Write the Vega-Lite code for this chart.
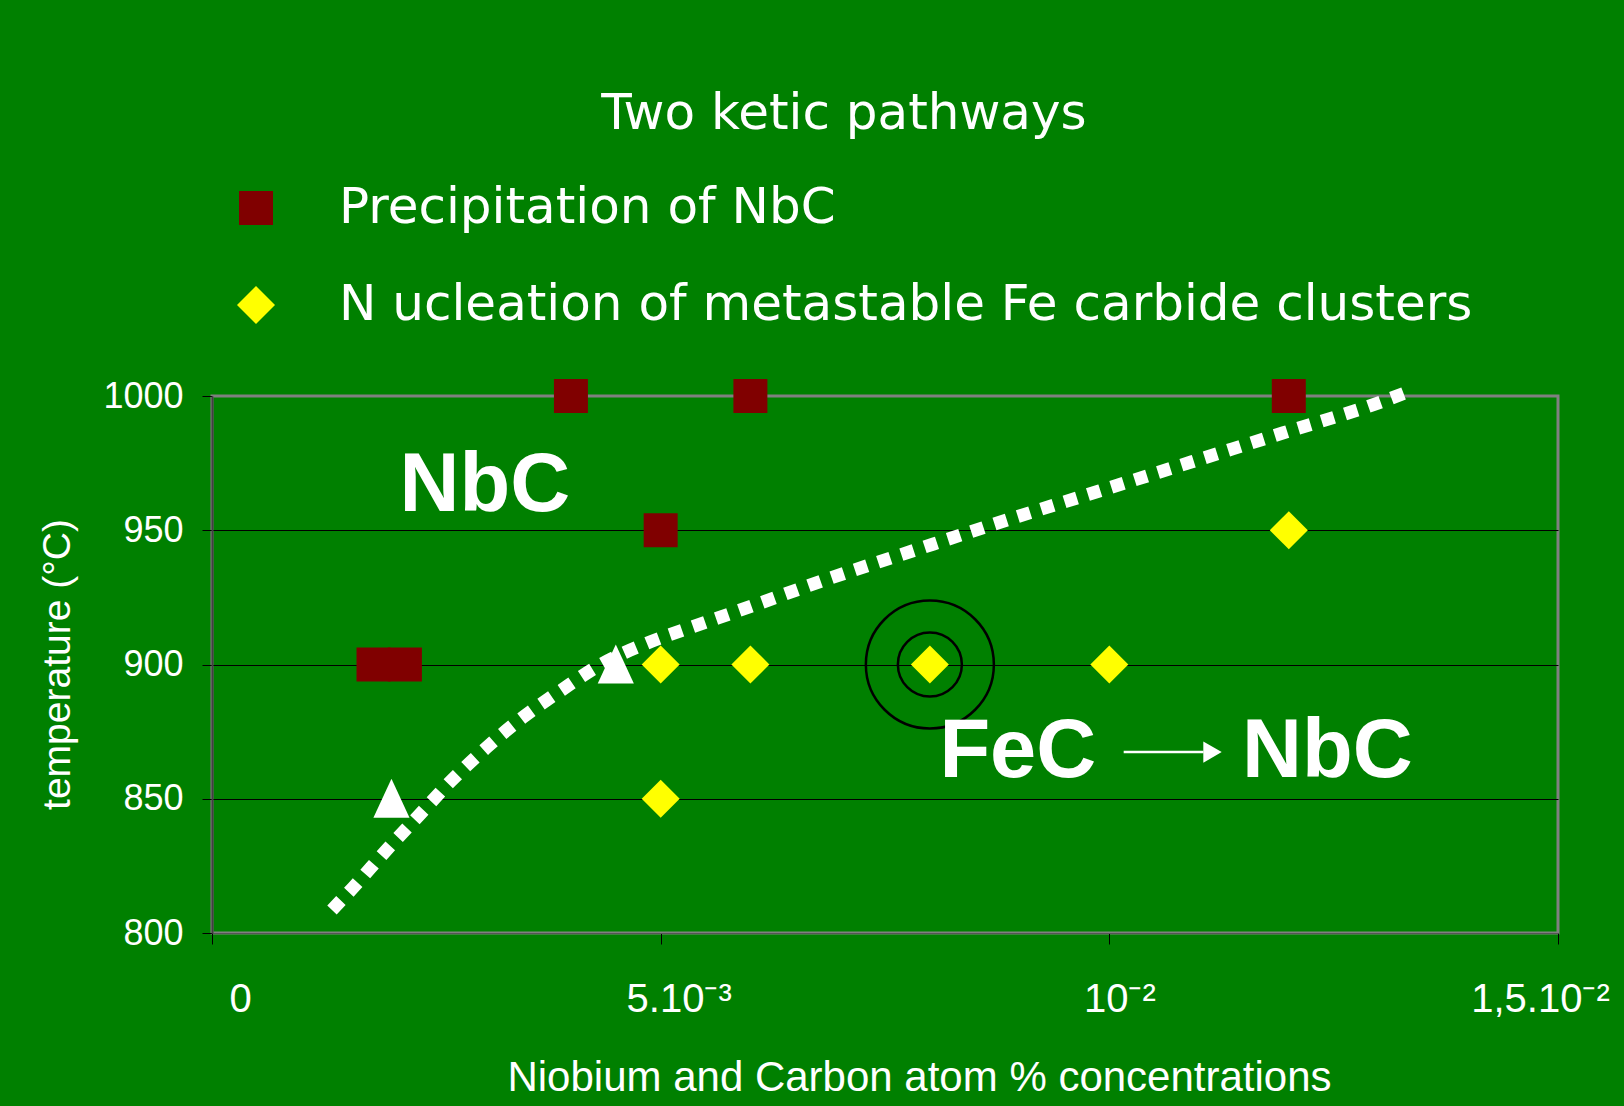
{
  "$schema": "https://vega.github.io/schema/vega-lite/v6.json",
  "width": 1346,
  "height": 537,
  "autosize": {"type": "none"},
  "padding": {"left": 212, "top": 396, "right": 66, "bottom": 173},
  "background": "#008000",
  "config": {
    "view": {"stroke": "#808080", "strokeWidth": 3},
    "font": "Liberation Sans"
  },
  "title": {
    "text": "Two ketic pathways",
    "font": "DejaVu Sans",
    "fontSize": 50,
    "fontWeight": "normal",
    "color": "white",
    "anchor": "middle",
    "frame": "group",
    "baseline": "alphabetic",
    "dx": -41,
    "offset": 4
  },
  "datasets": {
    "markers": [
      {"x": 0.0018, "y": 900, "series": "Precipitation of NbC"},
      {"x": 0.00215, "y": 900, "series": "Precipitation of NbC"},
      {"x": 0.004, "y": 1000, "series": "Precipitation of NbC"},
      {"x": 0.006, "y": 1000, "series": "Precipitation of NbC"},
      {"x": 0.012, "y": 1000, "series": "Precipitation of NbC"},
      {"x": 0.005, "y": 950, "series": "Precipitation of NbC"},
      {"x": 0.005, "y": 900, "series": "N ucleation of metastable Fe carbide clusters"},
      {"x": 0.006, "y": 900, "series": "N ucleation of metastable Fe carbide clusters"},
      {"x": 0.008, "y": 900, "series": "N ucleation of metastable Fe carbide clusters"},
      {"x": 0.010, "y": 900, "series": "N ucleation of metastable Fe carbide clusters"},
      {"x": 0.005, "y": 850, "series": "N ucleation of metastable Fe carbide clusters"},
      {"x": 0.012, "y": 950, "series": "N ucleation of metastable Fe carbide clusters"}
    ],
    "triangles": [
      {"x": 0.0045, "y": 900},
      {"x": 0.0020, "y": 850}
    ],
    "rings": [
      {"x": 0.008, "y": 900, "ring": "outer"},
      {"x": 0.008, "y": 900, "ring": "inner"}
    ],
    "curve": [
      {"x": 0.001337, "y": 808.6},
      {"x": 0.001575, "y": 817.0},
      {"x": 0.001939, "y": 830.7},
      {"x": 0.00230, "y": 843.6},
      {"x": 0.002663, "y": 856.6},
      {"x": 0.00305, "y": 868.8},
      {"x": 0.003463, "y": 880.3},
      {"x": 0.003897, "y": 890.5},
      {"x": 0.004343, "y": 900.2},
      {"x": 0.004844, "y": 907.9},
      {"x": 0.00535, "y": 914.0},
      {"x": 0.00584, "y": 919.7},
      {"x": 0.00685, "y": 931.7},
      {"x": 0.00787, "y": 943.0},
      {"x": 0.008885, "y": 954.1},
      {"x": 0.009896, "y": 964.7},
      {"x": 0.01092, "y": 975.5},
      {"x": 0.01194, "y": 986.3},
      {"x": 0.01296, "y": 997.0},
      {"x": 0.01338, "y": 1002.2}
    ],
    "labels": [
      {"x": 0.00304, "y": 957.3, "text": "NbC"},
      {"x": 0.00898, "y": 858.1, "text": "FeC"},
      {"x": 0.01243, "y": 858.1, "text": "NbC"}
    ],
    "arrow": [
      {"x": 0.01016, "x2": 0.01105, "y": 867.4}
    ],
    "arrowhead": [
      {"x": 0.01115, "y": 867.4}
    ]
  },
  "encoding": {
    "x": {
      "field": "x",
      "type": "quantitative",
      "scale": {"domain": [0, 0.015], "nice": false, "zero": false},
      "axis": {
        "title": "Niobium and Carbon atom % concentrations",
        "titleFont": "Liberation Sans",
        "titleFontSize": 42,
        "titleFontWeight": "normal",
        "titleColor": "white",
        "titleX": 707,
        "titleY": 157,
        "titleAlign": "center",
        "titleBaseline": "alphabetic",
        "values": [0, 0.005, 0.01, 0.015],
        "labelExpr": "datum.value == 0 ? '0' : datum.value == 0.005 ? '5.10⁻³' : datum.value == 0.01 ? '10⁻²' : '1,5.10⁻²'",
        "labelFont": "Liberation Sans",
        "labelFontSize": 40,
        "labelColor": "white",
        "labelPadding": 35,
        "labelFlush": false,
        "labelOverlap": false,
        "labelOffset": {
          "condition": [
            {"test": "datum.value == 0", "value": 28},
            {"test": "datum.value == 0.005", "value": 18},
            {"test": "datum.value == 0.01", "value": 10}
          ],
          "value": -18
        },
        "tickSize": 11,
        "tickColor": "black",
        "tickWidth": 1,
        "domainColor": "#555555",
        "domainWidth": 1,
        "grid": false
      }
    },
    "y": {
      "field": "y",
      "type": "quantitative",
      "scale": {"domain": [800, 1000], "nice": false, "zero": false},
      "axis": {
        "title": "temperature (°C)",
        "titleFont": "Liberation Sans",
        "titleFontSize": 39,
        "titleFontWeight": "normal",
        "titleColor": "white",
        "titleX": -155,
        "titleY": 268,
        "titleAngle": -90,
        "titleAlign": "center",
        "titleBaseline": "middle",
        "values": [800, 850, 900, 950, 1000],
        "format": "d",
        "labelFont": "Liberation Sans",
        "labelFontSize": 36,
        "labelColor": "white",
        "labelPadding": 19,
        "tickSize": 10,
        "tickColor": "black",
        "tickWidth": 1,
        "domainColor": "#404040",
        "domainWidth": 2,
        "grid": true,
        "gridColor": "black",
        "gridWidth": 1,
        "gridOpacity": {"condition": {"test": "datum.value == 800 || datum.value == 1000", "value": 0}, "value": 1}
      }
    }
  },
  "layer": [
    {
      "data": {"name": "curve"},
      "mark": {"type": "line", "color": "white", "strokeWidth": 13, "strokeDash": [13, 11.5], "strokeCap": "butt", "interpolate": "monotone"}
    },
    {
      "data": {"name": "rings"},
      "transform": [{"filter": "datum.ring == 'outer'"}],
      "mark": {"type": "point", "shape": "circle", "filled": false, "stroke": "black", "strokeWidth": 2.5, "size": 16384, "opacity": 1}
    },
    {
      "data": {"name": "rings"},
      "transform": [{"filter": "datum.ring == 'inner'"}],
      "mark": {"type": "point", "shape": "circle", "filled": false, "stroke": "black", "strokeWidth": 2.5, "size": 4096, "opacity": 1}
    },
    {
      "data": {"name": "markers"},
      "mark": {"type": "point", "filled": true, "opacity": 1, "strokeWidth": 0},
      "encoding": {
        "color": {
          "field": "series",
          "type": "nominal",
          "scale": {"domain": ["Precipitation of NbC", "N ucleation of metastable Fe carbide clusters"], "range": ["#800000", "#ffff00"]},
          "legend": {
            "title": null,
            "orient": "none",
            "legendX": 19,
            "legendY": -213,
            "direction": "vertical",
            "symbolSize": 2025,
            "symbolStrokeWidth": 0,
            "labelFont": "DejaVu Sans",
            "labelFontSize": 50,
            "labelColor": "white",
            "labelLimit": 3000,
            "labelOffset": 58,
            "rowPadding": 47,
            "encode": {
              "symbols": {
                "enter": {
                  "fill": {"signal": "datum.value == 'Precipitation of NbC' ? '#993300' : '#ffff00'"}
                },
                "update": {
                  "fill": {"signal": "datum.value == 'Precipitation of NbC' ? '#993300' : '#ffff00'"},
                  "size": {"signal": "datum.value == 'Precipitation of NbC' ? 1600 : 2025"},
                  "opacity": {"value": 1}
                }
              }
            }
          }
        },
        "shape": {
          "field": "series",
          "type": "nominal",
          "scale": {"domain": ["Precipitation of NbC", "N ucleation of metastable Fe carbide clusters"], "range": ["square", "diamond"]},
          "legend": {
            "title": null,
            "orient": "none",
            "legendX": 19,
            "legendY": -213,
            "direction": "vertical",
            "symbolSize": 2025,
            "symbolStrokeWidth": 0,
            "labelFont": "DejaVu Sans",
            "labelFontSize": 50,
            "labelColor": "white",
            "labelLimit": 3000,
            "labelOffset": 58,
            "rowPadding": 47,
            "encode": {
              "symbols": {
                "enter": {
                  "fill": {"signal": "datum.value == 'Precipitation of NbC' ? '#993300' : '#ffff00'"}
                },
                "update": {
                  "fill": {"signal": "datum.value == 'Precipitation of NbC' ? '#993300' : '#ffff00'"},
                  "size": {"signal": "datum.value == 'Precipitation of NbC' ? 1600 : 2025"},
                  "opacity": {"value": 1}
                }
              }
            }
          }
        },
        "size": {
          "field": "series",
          "type": "nominal",
          "scale": {"domain": ["Precipitation of NbC", "N ucleation of metastable Fe carbide clusters"], "range": [1156, 1444]},
          "legend": null
        }
      }
    },
    {
      "data": {"name": "triangles"},
      "mark": {"type": "point", "shape": "M0,-1.05L0.95,1L-0.95,1Z", "filled": true, "color": "white", "opacity": 1, "size": 1444}
    },
    {
      "data": {"name": "arrow"},
      "mark": {"type": "rule", "color": "white", "strokeWidth": 2.5},
      "encoding": {"x2": {"field": "x2"}}
    },
    {
      "data": {"name": "arrowhead"},
      "mark": {"type": "point", "shape": "triangle-right", "filled": true, "color": "white", "opacity": 1, "size": 450}
    },
    {
      "data": {"name": "labels"},
      "mark": {"type": "text", "font": "Liberation Sans", "fontWeight": "bold", "fontSize": 83, "color": "white", "align": "center", "baseline": "alphabetic"},
      "encoding": {"text": {"field": "text"}}
    }
  ]
}
